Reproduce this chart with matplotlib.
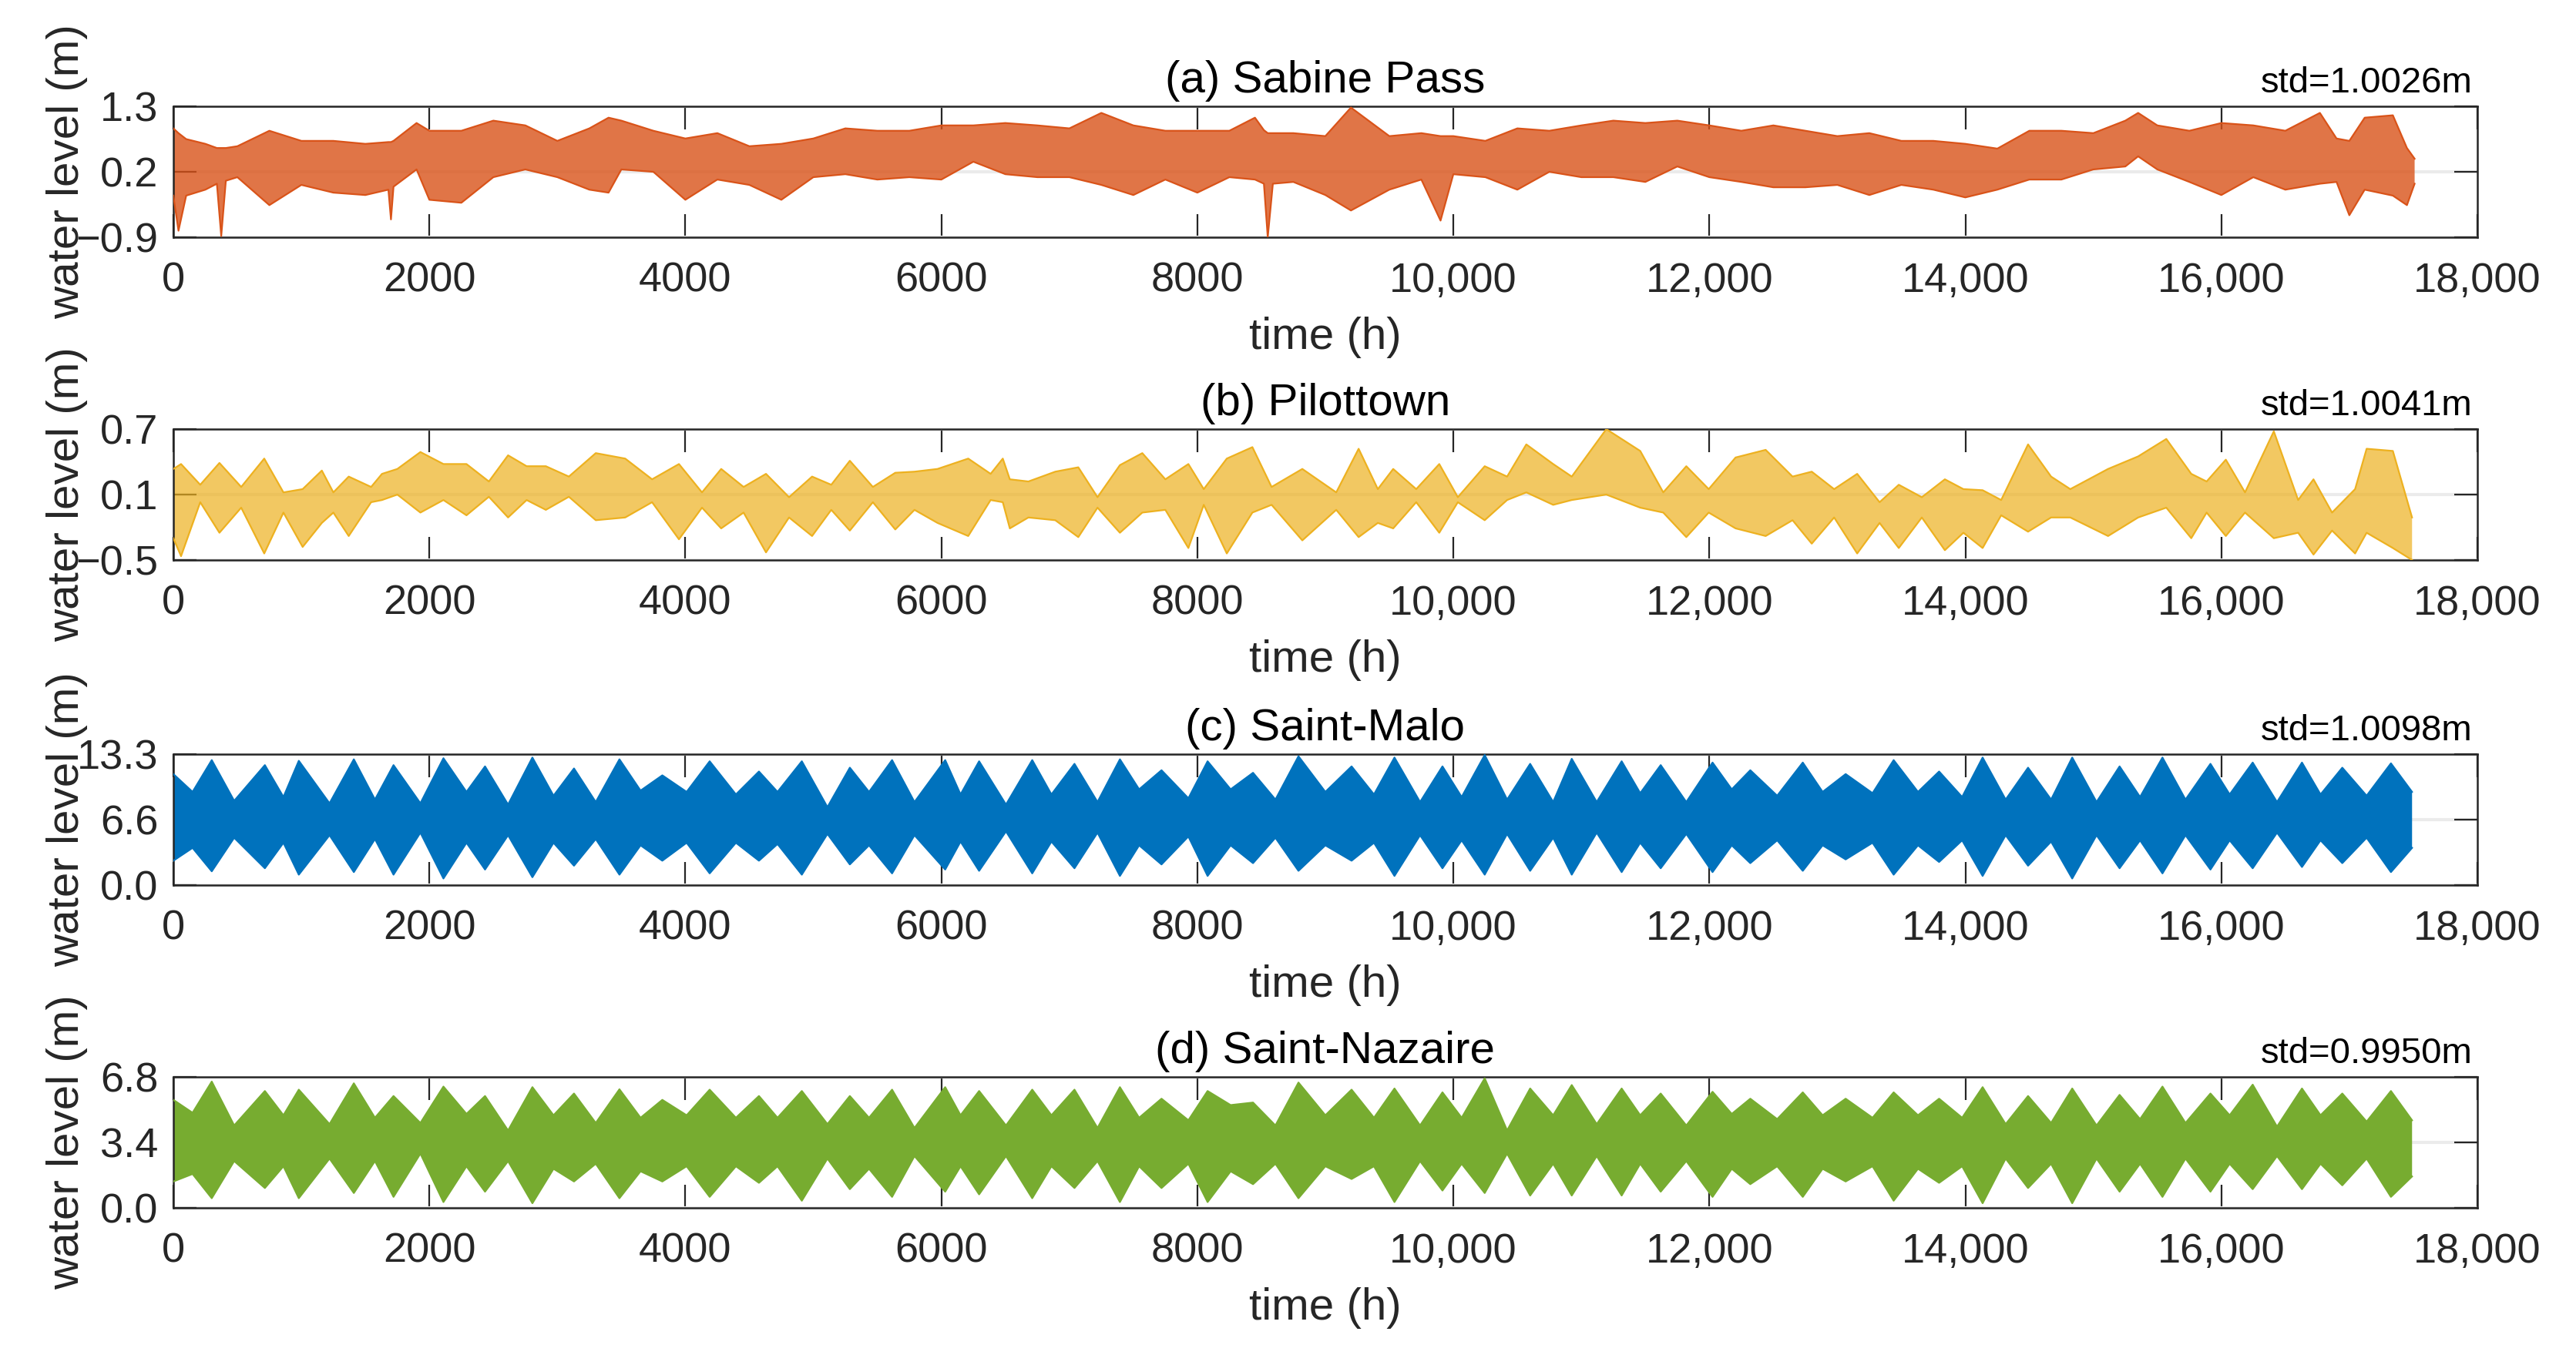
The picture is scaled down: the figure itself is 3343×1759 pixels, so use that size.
import numpy as np
import matplotlib
matplotlib.use("Agg")
import matplotlib.pyplot as plt

plt.rcParams['font.family'] = ['Liberation Sans', 'DejaVu Sans']

# envelopes (upper / lower), time in hours
sab_t = [0, 40, 100, 250, 340, 374, 410, 500, 750, 1000, 1250, 1500, 1680, 1700, 1720,
         1900, 2000, 2250, 2500, 2750, 3000, 3250, 3400, 3500, 3750, 4000, 4250, 4500,
         4750, 5000, 5250, 5500, 5750, 6000, 6250, 6500, 6750, 7000, 7250, 7500, 7750,
         8000, 8250, 8450, 8520, 8550, 8590, 8750, 9000, 9200, 9500, 9750, 9900, 10000,
         10250, 10500, 10750, 11000, 11250, 11500, 11750, 12000, 12250, 12500, 12750,
         13000, 13250, 13500, 13750, 14000, 14250, 14500, 14750, 15000, 15250, 15350,
         15500, 15750, 16000, 16250, 16500, 16770, 16900, 17000, 17120, 17340, 17450, 17510]
sab_hi = [0.93, 0.85, 0.75, 0.67, 0.60, 0.60, 0.60, 0.63, 0.89, 0.72, 0.72, 0.67, 0.70, 0.70, 0.72,
          1.02, 0.89, 0.89, 1.06, 0.98, 0.72, 0.93, 1.11, 1.06, 0.89, 0.76, 0.85, 0.63,
          0.67, 0.76, 0.93, 0.89, 0.89, 0.98, 0.98, 1.02, 0.98, 0.93, 1.19, 0.98, 0.89,
          0.89, 0.89, 1.11, 0.90, 0.85, 0.85, 0.85, 0.80, 1.28, 0.80, 0.85, 0.80, 0.80,
          0.72, 0.93, 0.89, 0.98, 1.06, 1.02, 1.06, 0.98, 0.89, 0.98, 0.89,
          0.80, 0.85, 0.72, 0.72, 0.67, 0.59, 0.89, 0.89, 0.85, 1.06, 1.19,
          0.98, 0.89, 1.02, 0.98, 0.89, 1.19, 0.76, 0.72, 1.11, 1.15, 0.60, 0.42]
sab_lo = [-0.20, -0.79, -0.20, -0.10, 0.00, -0.88, 0.05, 0.11, -0.36, -0.02, -0.15, -0.19, -0.10, -0.60, -0.05,
          0.24, -0.27, -0.32, 0.11, 0.24, 0.11, -0.10, -0.15, 0.24, 0.20, -0.27, 0.07, -0.02,
          -0.27, 0.11, 0.16, 0.07, 0.11, 0.07, 0.37, 0.16, 0.11, 0.11, -0.02, -0.19, 0.07,
          -0.15, 0.11, 0.07, 0.00, -0.90, 0.00, 0.03, -0.19, -0.45, -0.10, 0.07, -0.62, 0.16,
          0.11, -0.10, 0.20, 0.11, 0.11, 0.03, 0.29, 0.11, 0.03, -0.06, -0.06,
          -0.02, -0.19, -0.02, -0.10, -0.23, -0.10, 0.07, 0.07, 0.24, 0.29, 0.46,
          0.24, 0.03, -0.19, 0.11, -0.10, 0.00, 0.03, -0.53, -0.10, -0.20, -0.36, 0.00]

pil_t = [0, 60, 210, 360, 530, 710, 860, 1010, 1160, 1250, 1370, 1545, 1630, 1750, 1930,
         2110, 2290, 2465, 2615, 2760, 2910, 3090, 3300, 3530, 3740, 3950, 4130, 4280,
         4455, 4630, 4810, 4990, 5140, 5285, 5465, 5640, 5790, 5970, 6210, 6385, 6480,
         6535, 6680, 6890, 7070, 7220, 7395, 7570, 7750, 7930, 8050, 8230, 8430, 8580,
         8820, 9085, 9260, 9410, 9530, 9710, 9890, 10035, 10245, 10420, 10570, 10780,
         10925, 11195, 11460, 11640, 11820, 11995, 12205, 12440, 12650, 12800, 12975,
         13155, 13330, 13480, 13660, 13840, 13985, 14135, 14280, 14490, 14670, 14820,
         15115, 15350, 15570, 15765, 15885, 16035, 16185, 16410, 16600, 16720, 16865,
         17045, 17135, 17340, 17490]
pil_hi = [0.335, 0.38, 0.19, 0.39, 0.17, 0.43, 0.12, 0.15, 0.32, 0.12, 0.265, 0.17, 0.29, 0.335, 0.49,
          0.38, 0.38, 0.22, 0.46, 0.36, 0.36, 0.265, 0.48, 0.43, 0.24, 0.38, 0.12, 0.335,
          0.17, 0.29, 0.076, 0.265, 0.19, 0.41, 0.17, 0.30, 0.31, 0.335, 0.43, 0.29, 0.43,
          0.24, 0.22, 0.31, 0.35, 0.076, 0.37, 0.48, 0.24, 0.38, 0.15, 0.43, 0.535, 0.17,
          0.335, 0.12, 0.52, 0.15, 0.335, 0.15, 0.38, 0.076, 0.36, 0.265, 0.56, 0.38,
          0.265, 0.70, 0.50, 0.12, 0.36, 0.15, 0.44, 0.51, 0.265, 0.31, 0.15,
          0.29, 0.03, 0.19, 0.076, 0.24, 0.15, 0.14, 0.05, 0.56, 0.265, 0.15,
          0.335, 0.45, 0.61, 0.29, 0.22, 0.42, 0.12, 0.68, 0.05, 0.24, -0.065,
          0.15, 0.52, 0.50, -0.11]
pil_lo = [-0.30, -0.465, 0.03, -0.25, -0.02, -0.44, -0.065, -0.38, -0.16, -0.065, -0.28, 0.03, 0.05, 0.10, -0.065,
          0.05, -0.09, 0.08, -0.11, 0.05, -0.04, 0.08, -0.135, -0.11, 0.03, -0.31, -0.02, -0.21,
          -0.065, -0.43, -0.11, -0.28, -0.04, -0.23, 0.03, -0.22, -0.04, -0.16, -0.28, 0.05, 0.03,
          -0.21, -0.11, -0.135, -0.29, -0.02, -0.25, -0.065, -0.04, -0.39, 0.006, -0.44, -0.065, 0.006,
          -0.32, -0.04, -0.29, -0.16, -0.21, 0.03, -0.25, 0.03, -0.135, 0.05, 0.12, 0.006,
          0.05, 0.10, -0.02, -0.065, -0.29, -0.065, -0.21, -0.28, -0.135, -0.35, -0.11,
          -0.44, -0.16, -0.39, -0.11, -0.41, -0.25, -0.39, -0.09, -0.24, -0.11, -0.11,
          -0.28, -0.11, -0.02, -0.30, -0.065, -0.28, -0.065, -0.30, -0.25, -0.45, -0.23,
          -0.44, -0.25, -0.39, -0.50]

# spring / neap extremes of the two French tide gauges
tide_t = [0, 150, 300, 475, 715, 860, 980, 1220, 1410, 1575, 1720, 1930, 2110, 2290, 2435,
          2615, 2805, 2970, 3130, 3300, 3485, 3650, 3820, 4010, 4190, 4395, 4575, 4720,
          4910, 5110, 5285, 5435, 5615, 5790, 6030, 6150, 6295, 6505, 6710, 6860, 7040,
          7220, 7395, 7545, 7720, 7930, 8080, 8260, 8435, 8610, 8790, 9000, 9205, 9380,
          9540, 9740, 9915, 10065, 10245, 10420, 10600, 10780, 10925, 11120, 11315, 11460,
          11620, 11820, 12025, 12175, 12320, 12530, 12730, 12885, 13065, 13275, 13440,
          13630, 13795, 13975, 14135, 14315, 14490, 14670, 14835, 15025, 15205, 15365,
          15540, 15720, 15915, 16065, 16245, 16435, 16630, 16775, 16945, 17135, 17325, 17490]
malo_hi = [11.28, 9.47, 12.70, 8.56, 12.19, 8.95, 12.63, 8.31, 12.78, 8.69, 12.19, 8.31, 12.89, 9.47, 12.06,
           8.18, 12.96, 9.08, 11.85, 8.44, 12.78, 9.60, 11.15, 9.47, 12.58, 9.21, 11.54, 9.47,
           12.58, 7.92, 11.93, 9.47, 12.70, 8.44, 12.70, 9.21, 12.58, 8.18, 12.70, 9.21, 12.32,
           8.44, 12.78, 9.73, 11.67, 8.82, 12.58, 9.73, 11.41, 8.69, 13.09, 9.47, 12.06, 9.21,
           12.96, 8.44, 12.06, 8.95, 13.22, 8.69, 12.32, 8.44, 12.83, 8.44, 12.58, 9.34,
           12.19, 8.44, 12.45, 9.73, 11.67, 9.08, 12.45, 9.47, 11.28, 9.34, 12.70,
           9.47, 11.54, 8.95, 12.96, 8.69, 11.93, 8.69, 12.96, 8.44, 12.06, 8.95,
           12.96, 8.69, 12.32, 9.21, 12.45, 8.44, 12.45, 9.21, 11.93, 9.08, 12.37, 9.47]
malo_lo = [2.48, 3.78, 1.40, 4.81, 1.71, 4.30, 1.06, 5.07, 1.32, 4.68, 1.06, 5.33, 0.67, 4.30, 1.58,
           5.07, 0.80, 4.30, 1.97, 4.68, 1.06, 4.04, 2.48, 4.30, 1.19, 4.30, 2.48, 4.17,
           1.06, 5.20, 2.10, 4.04, 1.19, 5.07, 1.58, 4.42, 1.45, 5.46, 1.19, 4.42, 1.71,
           5.33, 0.93, 4.04, 2.10, 4.94, 0.93, 4.04, 2.23, 4.81, 1.45, 4.04, 2.48, 4.30,
           0.93, 5.07, 1.71, 4.55, 1.06, 5.20, 1.45, 4.81, 1.06, 5.33, 1.32, 4.30,
           1.71, 5.20, 1.32, 4.04, 2.23, 4.55, 1.45, 4.04, 2.61, 4.30, 1.06,
           4.04, 2.35, 4.55, 0.93, 5.07, 1.97, 4.42, 0.67, 5.07, 1.71, 4.55,
           1.19, 5.07, 1.58, 4.55, 1.71, 5.33, 1.84, 4.55, 2.23, 4.81, 1.32, 3.78]
naz_hi = [5.61, 4.94, 6.56, 4.28, 6.07, 4.81, 6.14, 4.35, 6.47, 4.68, 5.81, 4.41, 6.30, 4.88, 5.81,
          4.02, 6.27, 4.81, 5.94, 4.41, 6.16, 4.68, 5.61, 4.81, 6.14, 4.68, 5.81, 4.68,
          6.07, 4.35, 5.81, 4.68, 6.14, 4.15, 6.27, 4.81, 6.07, 4.28, 6.14, 4.81, 6.14,
          4.15, 6.27, 4.68, 5.67, 4.55, 6.07, 5.34, 5.47, 4.28, 6.51, 4.81, 6.14, 4.68,
          6.20, 4.28, 6.00, 4.68, 6.73, 4.02, 6.20, 4.81, 6.38, 4.35, 6.20, 4.81,
          5.94, 4.28, 6.03, 4.88, 5.67, 4.61, 6.00, 4.81, 5.67, 4.68, 6.00,
          4.81, 5.67, 4.68, 6.27, 4.35, 5.81, 4.41, 6.20, 4.28, 5.87, 4.61,
          6.30, 4.41, 5.94, 4.81, 6.40, 4.22, 6.20, 4.81, 5.94, 4.48, 6.07, 4.55]
naz_lo = [1.37, 1.76, 0.50, 2.43, 1.03, 2.16, 0.50, 2.56, 0.77, 2.43, 0.57, 2.82, 0.30, 2.16, 0.84,
          2.43, 0.24, 2.03, 1.37, 2.29, 0.50, 1.90, 1.37, 2.16, 0.57, 2.16, 1.30, 2.16,
          0.37, 2.56, 0.97, 2.03, 0.57, 2.69, 0.84, 2.16, 0.70, 2.69, 0.50, 2.16, 1.03,
          2.43, 0.30, 2.16, 1.03, 2.29, 0.30, 1.90, 1.23, 2.29, 0.50, 2.16, 1.50, 2.16,
          0.30, 2.43, 0.90, 2.29, 0.77, 2.82, 0.64, 2.29, 0.64, 2.69, 0.64, 2.29,
          0.84, 2.43, 0.57, 2.03, 1.23, 2.16, 0.57, 2.03, 1.37, 2.16, 0.37,
          2.03, 1.30, 2.16, 0.24, 2.56, 1.03, 2.29, 0.24, 2.56, 0.84, 2.29,
          0.57, 2.56, 0.84, 2.29, 0.97, 2.69, 0.97, 2.29, 1.17, 2.56, 0.57, 1.63]

titles = ["(a) Sabine Pass", "(b) Pilottown", "(c) Saint-Malo", "(d) Saint-Nazaire"]
stds = ["std=1.0026m", "std=1.0041m", "std=1.0098m", "std=0.9950m"]
colors = ["#D95319", "#EDB120", "#0072BD", "#77AC30"]
fill_alpha = [0.8, 0.7, 1.0, 1.0]
yticks = [[-0.9, 0.2, 1.3], [-0.5, 0.1, 0.7], [0.0, 6.65, 13.3], [0.0, 3.4, 6.8]]
ytick_labels = [["\u22120.9", "0.2", "1.3"], ["\u22120.5", "0.1", "0.7"],
                ["0.0", "6.6", "13.3"], ["0.0", "3.4", "6.8"]]
xticks = [0, 2000, 4000, 6000, 8000, 10000, 12000, 14000, 16000, 18000]
xtick_labels = ["0", "2000", "4000", "6000", "8000", "10,000", "12,000", "14,000",
                "16,000", "18,000"]

series = [(sab_t, sab_hi, sab_lo), (pil_t, pil_hi, pil_lo),
          (tide_t, malo_hi, malo_lo), (tide_t, naz_hi, naz_lo)]

W, H, dpi = 3343, 1759, 200
fig = plt.figure(figsize=(W / dpi, H / dpi), dpi=dpi)
bottoms = [0.8249, 0.5867, 0.3468, 0.1086]

for i in range(4):
    ax = fig.add_axes([0.0673, bottoms[i], 0.8944, 0.0966])
    t, hi, lo = series[i]
    ax.fill_between(t, lo, hi, facecolor=colors[i], alpha=fill_alpha[i],
                    linewidth=0, zorder=2)
    ax.plot(t, hi, color=colors[i], lw=0.8, zorder=3)
    ax.plot(t, lo, color=colors[i], lw=0.8, zorder=3)
    ax.set_xlim(0, 18000)
    ax.set_ylim(yticks[i][0], yticks[i][-1])
    ax.set_xticks(xticks)
    ax.set_xticklabels(xtick_labels)
    ax.set_yticks(yticks[i])
    ax.set_yticklabels(ytick_labels[i])
    ax.grid(axis='y', color='#ebebeb', linewidth=1.5)
    ax.set_axisbelow(True)
    ax.tick_params(direction='in', top=True, right=True, length=10.8, width=0.8,
                   color='#262626', labelsize=19.5, labelcolor='#262626')
    ax.tick_params(axis='x', pad=11.5)
    ax.tick_params(axis='y', pad=7)
    for s in ax.spines.values():
        s.set_color('#262626')
        s.set_linewidth(0.9)
    ax.set_xlabel("time (h)", fontsize=21, color='#262626', labelpad=7.5)
    ax.set_ylabel("water level (m)", fontsize=21, color='#262626')
    ax.yaxis.set_label_coords(-0.037, 0.5)
    ax.text(0.5, 1.105, titles[i], transform=ax.transAxes, ha='center',
            va='baseline', fontsize=21)
    ax.text(0.998, 1.105, stds[i], transform=ax.transAxes, ha='right',
            va='baseline', fontsize=17)

fig.savefig("out.png", dpi=dpi)
